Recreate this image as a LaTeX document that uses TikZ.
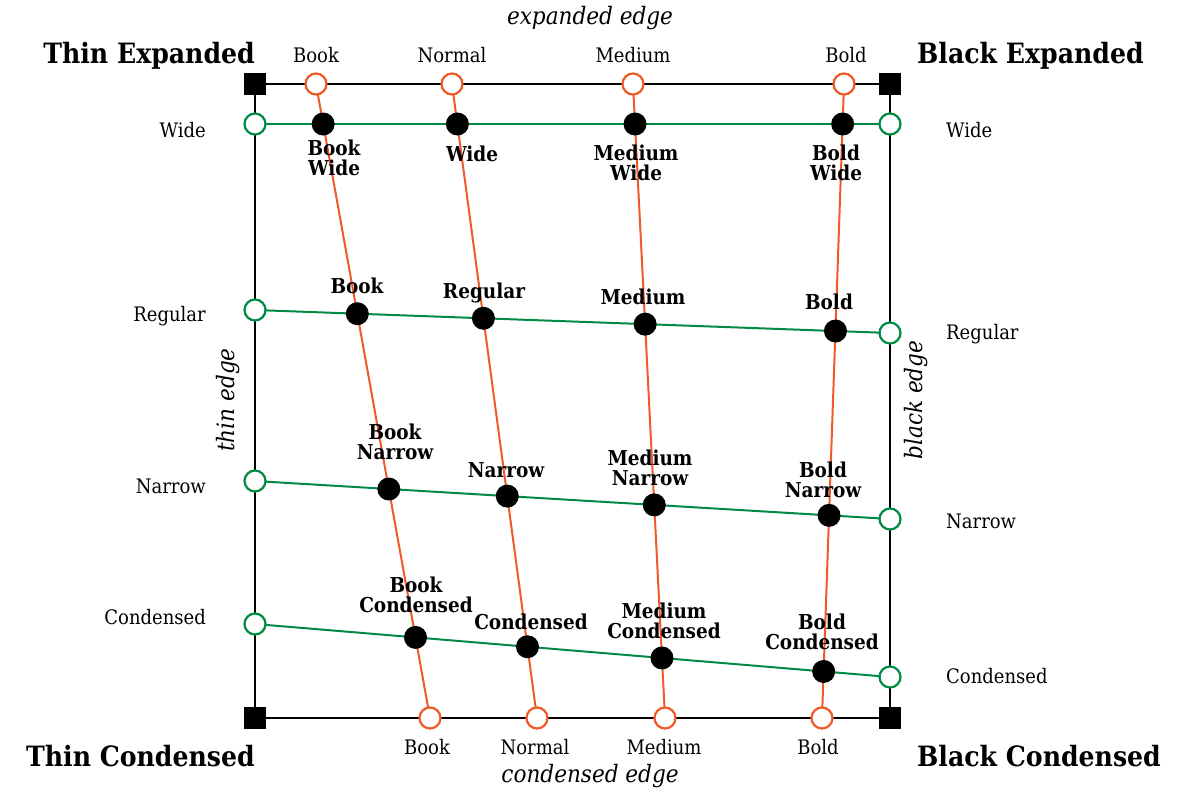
\documentclass[tikz,border=0pt]{standalone}
\usepackage{fontspec}
\setmainfont{DejaVu Serif Condensed}
\usetikzlibrary{intersections}
\definecolor{orng}{RGB}{240,90,40}
\definecolor{grn}{RGB}{0,138,68}
\begin{document}
\begin{tikzpicture}[x=1pt,y=-1pt,
  corner/.style={rectangle,fill=black,minimum size=22pt,inner sep=0pt},
  wpt/.style={circle,draw=orng,fill=white,line width=2.2pt,minimum size=21pt,inner sep=0pt},
  hpt/.style={circle,draw=grn,fill=white,line width=2.2pt,minimum size=21pt,inner sep=0pt},
  dot/.style={circle,fill=black,minimum size=23pt,inner sep=0pt},
  lbl/.style={font=\fontsize{20}{22}\selectfont,inner sep=0pt},
  blbl/.style={font=\bfseries\fontsize{20.5}{20}\selectfont,align=center,inner sep=0pt},
  ttl/.style={font=\bfseries\fontsize{28}{30}\selectfont,inner sep=0pt},
  edgelbl/.style={font=\itshape\fontsize{24}{26}\selectfont,inner sep=0pt},
  frame/.style={line width=2.6pt,black},
  wline/.style={line width=2pt,orng},
  hline/.style={line width=2pt,grn}]
\useasboundingbox (0,0) rectangle (1192,804);
% corners
\node[corner] (TL) at (255,84) {};
\node[corner] (TR) at (890,84) {};
\node[corner] (BL) at (255,718) {};
\node[corner] (BR) at (890,718) {};
% endpoints
\coordinate (t1) at (316,84); \coordinate (t2) at (452,84);
\coordinate (t3) at (633,84); \coordinate (t4) at (844,84);
\coordinate (b1) at (430,718); \coordinate (b2) at (537,718);
\coordinate (b3) at (665,718); \coordinate (b4) at (822,718);
\coordinate (l1) at (255,124); \coordinate (l2) at (255,310);
\coordinate (l3) at (255,481); \coordinate (l4) at (255,624);
\coordinate (r1) at (890,124); \coordinate (r2) at (890,333);
\coordinate (r3) at (890,519); \coordinate (r4) at (890,677);
% frame
\draw[frame] (TL.center) -- (TR.center) -- (BR.center) -- (BL.center) -- cycle;
% lines
\draw[hline,name path=h1] (l1) -- (r1);
\draw[hline,name path=h2] (l2) -- (r2);
\draw[hline,name path=h3] (l3) -- (r3);
\draw[hline,name path=h4] (l4) -- (r4);
\draw[wline,name path=v1] (t1) -- (b1);
\draw[wline,name path=v2] (t2) -- (b2);
\draw[wline,name path=v3] (t3) -- (b3);
\draw[wline,name path=v4] (t4) -- (b4);
% end circles
\foreach \k in {1,...,4} {
  \node[wpt] (T\k) at (t\k) {};
  \node[wpt] (B\k) at (b\k) {};
  \node[hpt] (L\k) at (l\k) {};
  \node[hpt] (R\k) at (r\k) {};
}
% intersection dots
\path[name intersections={of=h1 and v1,by=x11}];
\path[name intersections={of=h1 and v2,by=x12}];
\path[name intersections={of=h1 and v3,by=x13}];
\path[name intersections={of=h1 and v4,by=x14}];
\path[name intersections={of=h2 and v1,by=x21}];
\path[name intersections={of=h2 and v2,by=x22}];
\path[name intersections={of=h2 and v3,by=x23}];
\path[name intersections={of=h2 and v4,by=x24}];
\path[name intersections={of=h3 and v1,by=x31}];
\path[name intersections={of=h3 and v2,by=x32}];
\path[name intersections={of=h3 and v3,by=x33}];
\path[name intersections={of=h3 and v4,by=x34}];
\path[name intersections={of=h4 and v1,by=x41}];
\path[name intersections={of=h4 and v2,by=x42}];
\path[name intersections={of=h4 and v3,by=x43}];
\path[name intersections={of=h4 and v4,by=x44}];
\foreach \ra in {1,...,4} {
  \foreach \ca in {1,...,4} {
    \node[dot] (d\ra\ca) at (x\ra\ca) {};
  }
}
% top / bottom labels
\node[lbl,anchor=base] (tl1) at (316,62) {Book};
\node[lbl,anchor=base] (tl2) at (452,62) {Normal};
\node[lbl,anchor=base] (tl3) at (633,62) {Medium};
\node[lbl,anchor=base] (tl4) at (846,62) {Bold};
\node[lbl,anchor=base] (bl1) at (427,754) {Book};
\node[lbl,anchor=base] (bl2) at (535,754) {Normal};
\node[lbl,anchor=base] (bl3) at (664,754) {Medium};
\node[lbl,anchor=base] (bl4) at (818,754) {Bold};
% left / right labels
\node[lbl,anchor=base east] (ll1) at (206,137) {Wide};
\node[lbl,anchor=base east] (ll2) at (206,321) {Regular};
\node[lbl,anchor=base east] (ll3) at (206,493) {Narrow};
\node[lbl,anchor=base east] (ll4) at (206,624) {Condensed};
\node[lbl,anchor=base west] (rl1) at (946,137) {Wide};
\node[lbl,anchor=base west] (rl2) at (946,339) {Regular};
\node[lbl,anchor=base west] (rl3) at (946,528) {Narrow};
\node[lbl,anchor=base west] (rl4) at (946,683) {Condensed};
% dot labels
\node[blbl] (n11) at (334,158) {Book\\Wide};
\node[blbl] (n12) at (472,154) {Wide};
\node[blbl] (n13) at (636,163) {Medium\\Wide};
\node[blbl] (n14) at (836,163) {Bold\\Wide};
\node[blbl] (n21) at (357,286) {Book};
\node[blbl] (n22) at (484,293) {Regular};
\node[blbl] (n23) at (643,297) {Medium};
\node[blbl] (n24) at (829,302) {Bold};
\node[blbl] (n31) at (395,442) {Book\\Narrow};
\node[blbl] (n32) at (506,470) {Narrow};
\node[blbl] (n33) at (650,468) {Medium\\Narrow};
\node[blbl] (n34) at (823,480) {Bold\\Narrow};
\node[blbl] (n41) at (416,595) {Book\\Condensed};
\node[blbl] (n42) at (531,622) {Condensed};
\node[blbl] (n43) at (664,621) {Medium\\Condensed};
\node[blbl] (n44) at (822,632) {Bold\\Condensed};
% corner titles
\node[ttl,anchor=base east] (ttl1) at (255,63) {Thin Expanded};
\node[ttl,anchor=base west] (ttl2) at (917,63) {Black Expanded};
\node[ttl,anchor=base east] (ttl3) at (255,766) {Thin Condensed};
\node[ttl,anchor=base west] (ttl4) at (917,766) {Black Condensed};
% edge labels
\node[edgelbl] (e1) at (590,18) {expanded edge};
\node[edgelbl] (e2) at (590,776) {condensed edge};
\node[edgelbl,rotate=90] (e3) at (228,400) {thin edge};
\node[edgelbl,rotate=90] (e4) at (916,400) {black edge};
\end{tikzpicture}
\end{document}
